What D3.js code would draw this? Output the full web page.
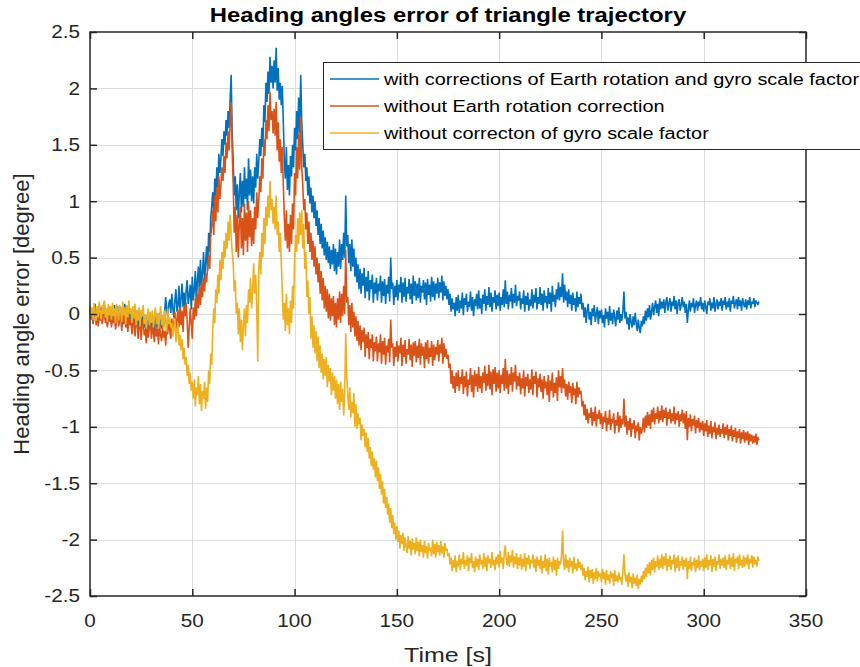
<!DOCTYPE html>
<html>
<head>
<meta charset="utf-8">
<script src="https://cdn.jsdelivr.net/npm/d3@7"></script>
<style>
  html, body { margin: 0; padding: 0; background: #fff; }
  svg { display: block; font-family: "Liberation Sans", Arial, Helvetica, sans-serif; }
</style>
</head>
<body>
<svg id="chart" width="860" height="667"></svg>
<script>
// Sample interval of the recorded heading errors, seconds
const timeStep = 0.5;

// Heading error [deg], with corrections of Earth rotation and gyro scale factor
const withCorrections = [
  0.07,-0.03,0.05,-0.08,0.02,0.09,-0.06,0.04,-0.09,0.08,-0.02,0.06,-0.07,0.03,0.10,-0.05,0.01,-0.10,0.06,-0.04,
  0.05,-0.09,0.02,-0.06,0.08,-0.11,0.00,0.07,-0.08,-0.01,0.06,-0.12,0.03,-0.05,0.09,-0.07,0.01,-0.10,0.04,-0.06,
  0.02,-0.11,-0.03,0.05,-0.13,-0.02,0.03,-0.14,-0.06,0.01,-0.15,-0.04,0.02,-0.12,-0.08,-0.17,-0.01,-0.13,-0.05,0.00,
  -0.14,-0.03,-0.10,-0.16,-0.01,-0.12,-0.06,-0.15,0.01,-0.09,-0.13,-0.04,-0.11,0.02,0.15,0.04,-0.02,0.09,0.13,0.01,
  0.18,0.05,-0.03,0.12,0.22,0.02,0.08,0.25,-0.01,0.14,0.27,0.06,0.19,0.02,0.21,0.30,0.09,0.16,0.26,0.04,
  0.33,0.12,0.22,0.38,0.08,0.30,0.42,0.18,0.48,0.25,0.36,0.55,0.28,0.45,0.60,0.38,0.72,0.55,0.85,0.95,
  1.08,0.88,1.20,1.02,1.30,1.12,1.42,1.25,1.38,1.55,1.40,1.62,1.50,1.72,1.58,1.80,1.65,1.90,2.12,1.60,
  1.35,1.05,1.22,0.92,1.15,0.85,1.08,1.25,0.90,1.18,0.95,1.30,1.02,1.20,0.92,1.38,1.05,1.28,1.00,1.22,
  0.98,1.30,1.12,1.42,1.20,1.35,1.55,1.40,1.65,1.48,1.85,1.70,2.05,1.88,2.15,1.95,2.28,2.05,2.20,2.00,
  2.25,2.05,2.36,1.98,2.18,1.90,2.05,1.85,2.02,1.70,1.35,1.20,1.48,1.10,1.32,1.05,1.40,1.22,1.50,1.30,
  1.65,1.45,1.80,1.55,1.92,1.60,2.12,1.70,1.50,1.30,1.42,1.18,1.30,1.05,1.22,0.98,1.12,0.90,1.05,0.85,
  1.00,0.78,0.92,0.70,0.85,0.62,0.80,0.58,0.74,0.52,0.68,0.48,0.64,0.45,0.60,0.40,0.57,0.44,0.62,0.38,
  0.58,0.35,0.55,0.42,0.66,0.40,0.62,0.48,0.72,0.50,1.05,0.60,0.70,0.45,0.62,0.38,0.66,0.42,0.58,0.33,
  0.50,0.28,0.44,0.22,0.40,0.18,0.36,0.25,0.41,0.14,0.33,0.20,0.38,0.12,0.30,0.22,0.35,0.10,0.28,0.18,
  0.32,0.12,0.27,0.20,0.34,0.10,0.29,0.16,0.31,0.09,0.26,0.18,0.33,0.11,0.50,0.22,0.28,0.08,0.25,0.15,
  0.30,0.12,0.26,0.19,0.33,0.10,0.28,0.15,0.32,0.11,0.24,0.18,0.31,0.13,0.27,0.09,0.34,0.16,0.29,0.12,
  0.27,0.14,0.32,0.10,0.25,0.19,0.30,0.13,0.28,0.08,0.31,0.17,0.26,0.11,0.33,0.15,0.29,0.12,0.27,0.18,
  0.32,0.14,0.28,0.19,0.34,0.12,0.29,0.16,0.25,0.13,0.22,0.08,0.18,0.02,0.14,0.04,0.10,-0.02,0.15,0.03,
  0.17,0.01,0.12,0.05,0.19,-0.01,0.14,0.08,0.18,0.02,0.11,0.06,0.20,0.03,0.15,-0.02,0.13,0.07,0.18,0.04,
  0.21,0.05,0.14,0.00,0.17,0.09,0.22,0.03,0.16,0.08,0.24,0.06,0.19,0.02,0.15,0.10,0.21,0.04,0.17,0.07,
  0.19,0.03,0.15,0.08,0.22,0.06,0.30,0.09,0.20,0.04,0.17,0.11,0.23,0.05,0.18,0.10,0.26,0.07,0.16,0.12,
  0.20,0.04,0.14,0.09,0.21,0.02,0.16,0.08,0.19,0.03,0.13,0.07,0.22,0.05,0.17,0.10,0.23,0.04,0.15,0.09,
  0.24,0.08,0.18,0.03,0.21,0.10,0.16,0.05,0.23,0.09,0.19,0.02,0.25,0.11,0.17,0.06,0.22,0.13,0.28,0.12,
  0.24,0.15,0.36,0.10,0.26,0.12,0.20,0.06,0.22,0.09,0.17,0.03,0.19,0.08,0.14,0.02,0.20,0.06,0.15,0.09,
  0.18,0.04,0.10,-0.03,0.06,-0.08,0.03,0.09,-0.05,0.02,-0.10,0.05,-0.02,0.08,-0.07,0.00,0.06,-0.09,0.03,-0.04,
  0.04,-0.08,-0.01,-0.12,0.05,-0.04,0.02,-0.10,0.07,-0.06,0.01,-0.09,0.04,-0.03,-0.11,0.03,-0.05,0.06,-0.08,0.00,
  -0.06,0.03,0.20,-0.04,0.02,-0.09,-0.03,-0.14,0.00,-0.07,-0.12,-0.02,-0.10,0.01,-0.08,-0.15,-0.05,-0.12,-0.17,-0.06,
  -0.11,-0.02,-0.09,0.03,-0.06,0.05,-0.03,0.08,-0.05,0.02,0.10,-0.01,0.06,0.12,0.01,0.09,-0.02,0.14,0.04,0.11,
  0.05,0.13,0.01,0.10,0.15,0.03,0.09,0.14,0.02,0.11,0.07,0.16,0.04,0.12,0.00,0.10,0.13,0.03,0.08,0.15,
  0.06,0.11,0.01,0.09,-0.08,0.04,0.12,0.02,0.10,0.06,0.14,0.01,0.08,0.12,0.03,0.11,0.07,0.15,0.04,0.10,
  0.02,0.12,0.06,0.00,0.11,0.08,0.14,0.03,0.10,0.05,0.15,0.02,0.09,0.13,0.04,0.11,0.07,0.14,0.03,0.12,
  0.08,0.15,0.04,0.11,0.06,0.14,0.02,0.12,0.09,0.16,0.05,0.10,0.13,0.04,0.15,0.07,0.12,0.03,0.14,0.09,
  0.06,0.13,0.04,0.12,0.08,0.15,0.05,0.11,0.09,0.14,0.06,0.12,0.10,0.08,0.11
];

// Heading error [deg], without Earth rotation correction
const withoutEarthRotation = [
  0.05,-0.05,0.03,-0.09,0.00,0.06,-0.10,0.02,-0.11,0.05,-0.06,0.03,-0.09,0.01,0.06,-0.08,-0.02,-0.12,0.03,-0.07,
  0.02,-0.12,-0.02,-0.08,0.04,-0.14,-0.04,0.03,-0.11,-0.05,0.02,-0.15,-0.01,-0.09,0.04,-0.12,-0.04,-0.16,0.00,-0.10,
  -0.04,-0.18,-0.09,-0.02,-0.20,-0.08,-0.03,-0.22,-0.12,-0.05,-0.23,-0.10,-0.04,-0.19,-0.14,-0.26,-0.07,-0.21,-0.13,-0.06,
  -0.22,-0.10,-0.17,-0.25,-0.08,-0.20,-0.13,-0.27,-0.09,-0.19,-0.24,-0.11,-0.21,-0.15,-0.28,-0.10,-0.18,-0.05,-0.14,-0.22,
  -0.04,-0.17,-0.08,0.02,-0.14,-0.05,0.04,-0.12,0.06,-0.10,0.03,-0.16,0.08,-0.02,0.10,-0.06,-0.30,-0.12,0.05,-0.08,
  -0.22,0.06,-0.05,0.14,-0.02,0.18,0.05,0.24,0.08,0.28,0.15,0.32,0.20,0.36,0.28,0.42,0.52,0.40,0.68,0.78,
  0.92,0.70,1.05,0.82,1.12,0.90,1.22,1.02,1.15,1.30,1.18,1.40,1.25,1.52,1.38,1.62,1.45,1.70,1.88,1.45,
  1.15,0.72,0.95,0.55,0.88,0.50,0.82,0.95,0.58,0.85,0.52,0.98,0.65,0.90,0.55,1.00,0.68,0.92,0.60,0.85,
  0.62,0.95,0.75,1.08,0.85,1.02,1.22,1.08,1.38,1.20,1.55,1.40,1.72,1.55,1.85,1.62,1.97,1.72,1.80,1.60,
  1.82,1.58,1.88,1.45,1.70,1.35,1.55,1.25,1.48,1.15,0.85,0.65,0.92,0.58,0.80,0.55,0.88,0.62,0.98,0.75,
  1.25,1.05,1.48,1.20,1.60,1.28,1.75,1.30,1.15,0.92,1.02,0.75,0.90,0.62,0.82,0.55,0.72,0.48,0.65,0.42,
  0.60,0.35,0.50,0.28,0.45,0.18,0.38,0.12,0.32,0.05,0.25,0.02,0.22,-0.04,0.18,-0.06,0.14,-0.02,0.16,-0.10,
  0.10,-0.12,0.14,-0.05,0.20,-0.08,0.18,-0.02,0.25,0.00,0.57,0.10,0.15,-0.10,0.08,-0.16,0.10,-0.12,0.02,-0.20,
  -0.02,-0.24,-0.06,-0.28,-0.10,-0.32,-0.14,-0.25,-0.12,-0.38,-0.18,-0.30,-0.16,-0.40,-0.22,-0.30,-0.18,-0.42,-0.25,-0.33,
  -0.20,-0.42,-0.26,-0.34,-0.18,-0.44,-0.24,-0.36,-0.21,-0.45,-0.28,-0.34,-0.22,-0.43,-0.05,-0.30,-0.26,-0.46,-0.29,-0.38,
  -0.24,-0.42,-0.28,-0.35,-0.21,-0.46,-0.27,-0.38,-0.23,-0.44,-0.31,-0.36,-0.22,-0.41,-0.27,-0.47,-0.25,-0.37,-0.24,-0.43,
  -0.28,-0.39,-0.22,-0.45,-0.26,-0.37,-0.29,-0.48,-0.25,-0.40,-0.23,-0.44,-0.30,-0.38,-0.24,-0.46,-0.27,-0.41,-0.29,-0.36,
  -0.23,-0.42,-0.27,-0.35,-0.21,-0.44,-0.26,-0.38,-0.31,-0.40,-0.36,-0.48,-0.44,-0.62,-0.50,-0.66,-0.55,-0.70,-0.52,-0.64,
  -0.50,-0.68,-0.56,-0.62,-0.49,-0.71,-0.55,-0.65,-0.51,-0.73,-0.58,-0.63,-0.48,-0.69,-0.54,-0.74,-0.50,-0.64,-0.53,-0.69,
  -0.47,-0.66,-0.55,-0.70,-0.52,-0.61,-0.46,-0.68,-0.53,-0.64,-0.45,-0.67,-0.51,-0.72,-0.49,-0.62,-0.47,-0.69,-0.52,-0.66,
  -0.50,-0.70,-0.54,-0.62,-0.48,-0.68,-0.40,-0.66,-0.50,-0.71,-0.53,-0.63,-0.47,-0.69,-0.52,-0.60,-0.45,-0.67,-0.55,-0.64,
  -0.52,-0.71,-0.57,-0.66,-0.50,-0.73,-0.56,-0.64,-0.53,-0.70,-0.58,-0.67,-0.49,-0.72,-0.55,-0.62,-0.51,-0.74,-0.57,-0.65,
  -0.53,-0.69,-0.58,-0.75,-0.55,-0.66,-0.60,-0.72,-0.54,-0.78,-0.59,-0.68,-0.52,-0.74,-0.61,-0.70,-0.56,-0.77,-0.50,-0.65,
  -0.55,-0.70,-0.48,-0.66,-0.58,-0.73,-0.62,-0.76,-0.60,-0.70,-0.64,-0.79,-0.61,-0.72,-0.66,-0.80,-0.60,-0.74,-0.65,-0.71,
  -0.68,-0.82,-0.77,-0.90,-0.80,-0.94,-0.84,-0.97,-0.88,-0.92,-0.83,-0.99,-0.87,-0.95,-0.82,-1.00,-0.89,-0.93,-0.85,-0.98,
  -0.88,-1.02,-0.91,-0.96,-0.86,-1.04,-0.92,-0.98,-0.85,-1.03,-0.93,-0.97,-0.88,-1.06,-0.94,-0.99,-0.87,-1.05,-0.90,-1.01,
  -0.93,-0.98,-0.75,-1.00,-0.90,-1.07,-0.95,-1.03,-0.92,-1.09,-0.97,-1.02,-0.94,-1.10,-0.99,-1.04,-0.96,-1.12,-1.00,-1.06,
  -1.02,-0.92,-1.05,-0.90,-1.01,-0.87,-0.99,-0.89,-1.02,-0.85,-0.96,-0.83,-0.98,-0.88,-0.93,-0.82,-0.97,-0.86,-0.94,-0.81,
  -0.96,-0.85,-0.92,-0.83,-0.99,-0.87,-0.93,-0.84,-0.97,-0.88,-0.95,-0.82,-0.98,-0.88,-0.94,-0.86,-1.00,-0.89,-0.95,-0.85,
  -0.97,-0.88,-1.02,-0.86,-1.12,-0.92,-1.00,-0.89,-1.04,-0.93,-0.99,-0.90,-1.06,-0.94,-1.01,-0.92,-1.05,-0.96,-1.03,-0.95,
  -1.08,-0.97,-1.04,-0.94,-1.09,-0.99,-1.06,-0.95,-1.10,-1.00,-1.05,-0.96,-1.11,-1.01,-1.07,-0.98,-1.09,-1.02,-1.06,-0.97,
  -1.10,-1.00,-1.07,-0.98,-1.12,-1.02,-1.08,-0.99,-1.13,-1.03,-1.09,-1.01,-1.14,-1.04,-1.10,-1.02,-1.15,-1.05,-1.11,-1.03,
  -1.14,-1.05,-1.12,-1.04,-1.16,-1.06,-1.13,-1.07,-1.15,-1.08,-1.14,-1.06,-1.16,-1.09,-1.12
];

// Heading error [deg], without correction of gyro scale factor
const withoutScaleFactor = [
  0.08,-0.02,0.06,-0.05,0.10,0.01,-0.06,0.07,-0.03,0.11,0.02,-0.05,0.08,0.00,0.12,-0.03,0.05,-0.07,0.09,-0.01,
  0.07,-0.05,0.10,-0.02,0.05,-0.08,0.09,0.01,-0.06,0.08,0.03,-0.07,0.11,-0.01,0.06,-0.09,0.08,-0.03,0.12,0.00,
  0.05,-0.08,0.07,-0.04,0.09,-0.10,0.03,-0.06,0.06,-0.11,0.04,-0.02,0.08,-0.09,0.00,-0.13,-0.04,0.05,-0.10,0.02,
  -0.08,0.03,-0.12,-0.02,0.06,-0.09,0.01,-0.13,-0.04,0.07,-0.10,-0.01,-0.14,0.03,-0.07,-0.16,0.05,-0.09,-0.03,-0.12,
  -0.08,-0.20,-0.12,-0.04,-0.25,-0.15,-0.08,-0.28,-0.18,-0.32,-0.22,-0.40,-0.30,-0.45,-0.38,-0.55,-0.45,-0.62,-0.52,-0.68,
  -0.60,-0.75,-0.58,-0.82,-0.65,-0.72,-0.55,-0.80,-0.62,-0.86,-0.68,-0.75,-0.60,-0.84,-0.65,-0.78,-0.50,-0.62,-0.35,-0.45,
  -0.15,0.05,-0.08,0.22,0.10,0.35,0.18,0.48,0.30,0.55,0.40,0.65,0.50,0.72,0.58,0.82,0.65,0.88,0.70,0.55,
  0.45,0.20,0.30,0.00,0.10,-0.18,0.05,-0.25,-0.05,-0.32,-0.10,0.05,-0.20,0.08,-0.08,0.22,0.10,0.32,0.05,0.20,
  0.45,0.18,0.35,0.05,-0.42,0.40,0.55,0.35,0.72,0.50,0.85,0.62,0.95,0.78,1.05,0.85,1.18,0.92,1.02,0.80,
  0.95,0.75,1.05,0.70,0.82,0.55,0.72,0.45,0.20,-0.05,0.10,-0.15,0.18,-0.10,0.05,-0.18,0.12,-0.08,0.25,0.05,
  0.48,0.70,0.55,0.85,0.62,0.90,0.70,0.92,0.58,0.80,0.40,0.55,0.15,0.30,0.00,0.15,-0.22,-0.02,-0.30,-0.10,
  -0.35,-0.15,-0.42,-0.20,-0.48,-0.28,-0.52,-0.35,-0.58,-0.40,-0.55,-0.38,-0.65,-0.45,-0.60,-0.48,-0.72,-0.52,-0.68,-0.55,
  -0.75,-0.58,-0.80,-0.62,-0.85,-0.60,-0.78,-0.66,-0.90,-0.70,-0.17,-0.55,-0.72,-0.85,-0.65,-0.92,-0.78,-0.88,-0.70,-1.00,
  -0.80,-1.02,-0.88,-0.98,-0.92,-1.12,-0.98,-1.08,-1.02,-1.18,-1.05,-1.22,-1.10,-1.28,-1.18,-1.35,-1.22,-1.38,-1.28,-1.45,
  -1.30,-1.48,-1.36,-1.55,-1.42,-1.60,-1.48,-1.68,-1.55,-1.72,-1.62,-1.78,-1.68,-1.85,-1.72,-1.90,-1.78,-1.95,-1.85,-2.00,
  -1.88,-2.02,-1.92,-2.08,-1.96,-2.04,-1.94,-2.10,-1.98,-2.06,-2.12,-1.97,-2.08,-2.01,-2.14,-1.99,-2.09,-2.03,-2.13,-1.98,
  -2.10,-2.02,-2.15,-2.00,-2.11,-2.05,-2.16,-2.01,-2.12,-2.06,-2.17,-2.03,-2.10,-2.07,-2.15,-2.00,-2.13,-2.04,-2.16,-2.02,
  -2.11,-2.05,-2.14,-2.01,-2.12,-2.06,-2.16,-2.03,-2.10,-2.08,-2.15,-2.12,-2.22,-2.16,-2.28,-2.18,-2.25,-2.14,-2.29,-2.19,
  -2.24,-2.13,-2.27,-2.17,-2.22,-2.11,-2.26,-2.18,-2.23,-2.14,-2.28,-2.16,-2.21,-2.12,-2.25,-2.19,-2.29,-2.15,-2.24,-2.17,
  -2.27,-2.13,-2.22,-2.18,-2.26,-2.12,-2.24,-2.16,-2.28,-2.14,-2.21,-2.17,-2.25,-2.11,-2.23,-2.18,-2.27,-2.15,-2.22,-2.13,
  -2.25,-2.10,-2.21,-2.16,-2.26,-2.12,-2.05,-2.18,-2.23,-2.11,-2.24,-2.14,-2.20,-2.09,-2.25,-2.15,-2.22,-2.12,-2.26,-2.16,
  -2.23,-2.13,-2.27,-2.17,-2.24,-2.12,-2.28,-2.16,-2.22,-2.14,-2.26,-2.18,-2.21,-2.13,-2.25,-2.17,-2.29,-2.15,-2.23,-2.18,
  -2.26,-2.14,-2.30,-2.19,-2.25,-2.13,-2.28,-2.17,-2.31,-2.16,-2.24,-2.20,-2.29,-2.15,-2.27,-2.18,-2.32,-2.16,-2.26,-2.19,
  -2.22,-2.14,-1.92,-2.20,-2.27,-2.13,-2.25,-2.18,-2.29,-2.16,-2.24,-2.19,-2.30,-2.15,-2.26,-2.21,-2.28,-2.17,-2.25,-2.20,
  -2.27,-2.22,-2.32,-2.25,-2.36,-2.28,-2.33,-2.24,-2.38,-2.27,-2.34,-2.26,-2.39,-2.29,-2.35,-2.25,-2.37,-2.28,-2.33,-2.30,
  -2.38,-2.26,-2.35,-2.29,-2.40,-2.27,-2.36,-2.31,-2.39,-2.28,-2.34,-2.30,-2.41,-2.27,-2.37,-2.32,-2.38,-2.29,-2.36,-2.33,
  -2.40,-2.28,-2.13,-2.30,-2.37,-2.31,-2.42,-2.29,-2.38,-2.33,-2.43,-2.30,-2.39,-2.34,-2.41,-2.31,-2.44,-2.35,-2.40,-2.32,
  -2.38,-2.28,-2.35,-2.25,-2.33,-2.22,-2.30,-2.20,-2.32,-2.18,-2.27,-2.16,-2.29,-2.19,-2.24,-2.14,-2.27,-2.17,-2.25,-2.13,
  -2.26,-2.15,-2.23,-2.12,-2.28,-2.17,-2.24,-2.14,-2.27,-2.18,-2.22,-2.13,-2.29,-2.16,-2.25,-2.14,-2.28,-2.19,-2.23,-2.15,
  -2.27,-2.18,-2.24,-2.16,-2.35,-2.19,-2.26,-2.15,-2.28,-2.20,-2.23,-2.16,-2.29,-2.18,-2.25,-2.14,-2.27,-2.19,-2.24,-2.17,
  -2.28,-2.16,-2.25,-2.13,-2.27,-2.18,-2.23,-2.14,-2.29,-2.17,-2.24,-2.15,-2.28,-2.19,-2.22,-2.13,-2.26,-2.17,-2.23,-2.16,
  -2.25,-2.14,-2.27,-2.18,-2.22,-2.13,-2.26,-2.16,-2.24,-2.12,-2.28,-2.17,-2.21,-2.15,-2.26,-2.13,-2.23,-2.18,-2.25,-2.14,
  -2.24,-2.16,-2.22,-2.13,-2.26,-2.17,-2.21,-2.14,-2.25,-2.15,-2.22,-2.18,-2.24,-2.15,-2.19
];

const seriesNames = [
  "with corrections of Earth rotation and gyro scale factor",
  "without Earth rotation correction",
  "without correcton of gyro scale factor"
];
const seriesColors = ["#0072BD", "#D95319", "#EDB120"];

const xTicks = [0, 50, 100, 150, 200, 250, 300, 350];
const yTicks = [-2.5, -2, -1.5, -1, -0.5, 0, 0.5, 1, 1.5, 2, 2.5];

const titleText = "Heading angles error of triangle trajectory";
const xLabel = "Time [s]";
const yLabel = "Heading angle error [degree]";

// ---- layout ----
const plot = { left: 90, right: 806, top: 32, bottom: 596 };
const ink = "#262626";
const textStretch = 1.15;   // glyphs are drawn a little wider than the font's own width

const svg = d3.select("#chart");
svg.append("rect").attr("width", 860).attr("height", 667).attr("fill", "#fff");

const x = d3.scaleLinear().domain([0, 350]).range([plot.left, plot.right]);
const y = d3.scaleLinear().domain([-2.5, 2.5]).range([plot.bottom, plot.top]);

// place a horizontally stretched text with its anchor at (px, py)
function stretchedText(parent, px, py, str, opts) {
  const g = parent.append("g")
    .attr("transform", `translate(${px},${py}) scale(${opts.stretch || textStretch},1)`);
  return g.append("text")
    .attr("text-anchor", opts.anchor || "start")
    .attr("font-size", opts.size)
    .attr("font-weight", opts.weight || "normal")
    .attr("fill", opts.fill || ink)
    .attr("dy", opts.dy || null)
    .text(str);
}

// grid
const grid = svg.append("g").attr("stroke", "#dcdcdc").attr("stroke-width", 1);
grid.selectAll("line.gx").data(xTicks.slice(1, -1)).join("line")
  .attr("x1", d => Math.round(x(d)) + 0.5).attr("x2", d => Math.round(x(d)) + 0.5)
  .attr("y1", plot.top).attr("y2", plot.bottom);
grid.selectAll("line.gy").data(yTicks.slice(1, -1)).join("line")
  .attr("y1", d => Math.round(y(d)) + 0.5).attr("y2", d => Math.round(y(d)) + 0.5)
  .attr("x1", plot.left).attr("x2", plot.right);

// data lines (drawn in legend order, last one on top)
const series = [withCorrections, withoutEarthRotation, withoutScaleFactor];
const line = d3.line().x((d, i) => x(i * timeStep)).y(d => y(d));
const lines = svg.append("g").attr("fill", "none");
series.forEach((vals, k) => {
  lines.append("path")
    .attr("d", line(vals))
    .attr("stroke", seriesColors[k])
    .attr("stroke-width", 1.6)
    .attr("stroke-linejoin", "bevel");
});

// axes: ticks point inward on all four sides
const tickLen = 7;
const bottomAxis = d3.axisBottom(x).tickValues(xTicks).tickSize(-tickLen).tickFormat("");
const topAxis = d3.axisTop(x).tickValues(xTicks).tickSize(-tickLen).tickFormat("");
const leftAxis = d3.axisLeft(y).tickValues(yTicks).tickSize(-tickLen).tickFormat("");
const rightAxis = d3.axisRight(y).tickValues(yTicks).tickSize(-tickLen).tickFormat("");

function styleAxis(g) {
  g.select(".domain").remove();
  g.selectAll(".tick line").attr("stroke", ink).attr("stroke-width", 1.5);
}
svg.append("g").attr("transform", `translate(0,${plot.bottom})`).call(bottomAxis).call(styleAxis);
svg.append("g").attr("transform", `translate(0,${plot.top})`).call(topAxis).call(styleAxis);
svg.append("g").attr("transform", `translate(${plot.left},0)`).call(leftAxis).call(styleAxis);
svg.append("g").attr("transform", `translate(${plot.right},0)`).call(rightAxis).call(styleAxis);

// tick labels
const tickLabels = svg.append("g");
xTicks.forEach(v => {
  stretchedText(tickLabels, x(v), plot.bottom + 31, String(v), { size: 18, anchor: "middle" });
});
yTicks.forEach(v => {
  stretchedText(tickLabels, plot.left - 10, y(v), String(v), { size: 18, anchor: "end", dy: "0.36em" });
});

// axes box
svg.append("rect")
  .attr("x", plot.left).attr("y", plot.top)
  .attr("width", plot.right - plot.left).attr("height", plot.bottom - plot.top)
  .attr("fill", "none").attr("stroke", ink).attr("stroke-width", 1.5);

// title and axis labels
stretchedText(svg, (plot.left + plot.right) / 2, 22, titleText,
  { size: 20.5, weight: "bold", anchor: "middle", fill: "#000", stretch: 1.165 });
stretchedText(svg, (plot.left + plot.right) / 2, 662, xLabel,
  { size: 21, anchor: "middle", stretch: 1.19 });
svg.append("g")
  .attr("transform", `translate(29,${(plot.top + plot.bottom) / 2}) rotate(-90)`)
  .append("text")
  .attr("text-anchor", "middle").attr("font-size", 22).attr("fill", ink).text(yLabel);

// legend
const legend = svg.append("g");
legend.append("rect")
  .attr("x", 323.5).attr("y", 62.5).attr("width", 560).attr("height", 87)
  .attr("fill", "#fff").attr("stroke", "#262626").attr("stroke-width", 1);
const rowY = [79, 106, 133];
seriesNames.forEach((name, k) => {
  legend.append("line")
    .attr("x1", 330).attr("x2", 379).attr("y1", rowY[k]).attr("y2", rowY[k])
    .attr("stroke", seriesColors[k]).attr("stroke-width", 1.3);
  stretchedText(legend, 384, rowY[k], name, { size: 17.3, fill: "#000", dy: "0.35em" });
});
</script>
</body>
</html>
